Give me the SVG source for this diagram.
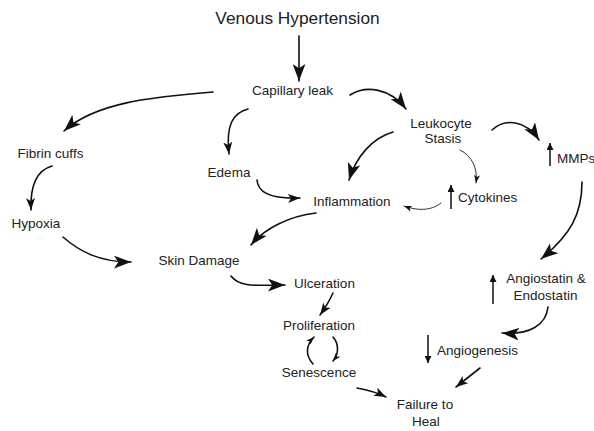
<svg xmlns="http://www.w3.org/2000/svg" width="594" height="431" viewBox="0 0 594 431">
<style>
text{font-family:"Liberation Sans",Arial,sans-serif;font-size:13.5px;fill:#222;text-anchor:middle}
.title{font-size:17.3px}
.c{fill:none;stroke:#111;stroke-width:1.6;stroke-linecap:round}
.t{fill:none;stroke:#333;stroke-width:1;stroke-linecap:round}
.s{fill:none;stroke:#111;stroke-width:1.5}
</style>
<defs>
<marker id="big" viewBox="0 0 16 12" refX="16" refY="6" markerWidth="17" markerHeight="13" orient="auto" markerUnits="userSpaceOnUse"><path d="M0,0 L16,6 L0,12 L4,6 z" fill="#111"/></marker>
<marker id="med" viewBox="0 0 16 12" refX="16" refY="6" markerWidth="12" markerHeight="9" orient="auto" markerUnits="userSpaceOnUse"><path d="M0,0 L16,6 L0,12 L4,6 z" fill="#111"/></marker>
<marker id="sm" viewBox="0 0 16 12" refX="16" refY="6" markerWidth="8" markerHeight="6" orient="auto" markerUnits="userSpaceOnUse"><path d="M0,0 L16,6 L0,12 L4,6 z" fill="#111"/></marker>
<marker id="up" viewBox="0 0 10 10" refX="10" refY="5" markerWidth="7" markerHeight="7" orient="auto" markerUnits="userSpaceOnUse"><path d="M0,0 L10,5 L0,10 z" fill="#111"/></marker>
</defs>
<g id="connectors">
<path class="c" d="M299,36 L299,81" marker-end="url(#big)"/>
<path class="c" d="M213,92 C150,97 95,103 64,131" marker-end="url(#big)"/>
<path class="c" d="M248,109 C232,113 226,126 229,154" marker-end="url(#med)"/>
<path class="c" d="M350,95 C366,85 390,88 406,109" marker-end="url(#big)"/>
<path class="c" d="M52,166 C38,170 30,183 31,210" marker-end="url(#med)"/>
<path class="c" d="M257,180 C258,195 275,199 300,198" marker-end="url(#med)"/>
<path class="c" d="M393,132 C372,138 356,157 349,180" marker-end="url(#big)"/>
<path class="c" d="M492,130 C505,118 526,120 539,140" marker-end="url(#big)"/>
<path class="t" d="M460,150 C472,156 478,168 476,183" marker-end="url(#sm)"/>
<path class="t" d="M441,203 C430,212 415,210 404,206" marker-end="url(#sm)"/>
<path class="c" d="M316,213 C290,216 265,228 251,245" marker-end="url(#big)"/>
<path class="c" d="M63,237 C80,252 100,262 131,262" marker-end="url(#big)"/>
<path class="c" d="M231,276 C240,288 258,285 285,285" marker-end="url(#big)"/>
<path class="c" d="M333,293 C329,302 325,308 320,315" marker-end="url(#med)"/>
<path class="c" d="M333,337 C340,345 338,355 333,361" marker-end="url(#sm)"/>
<path class="c" d="M313,364 C305,355 306,345 314,337" marker-end="url(#sm)"/>
<path class="c" d="M357,388 C368,390 378,393 386,397" marker-end="url(#med)"/>
<path class="c" d="M480,368 L456,387" marker-end="url(#med)"/>
<path class="c" d="M548,307 C546,325 530,335 502,333" marker-end="url(#big)"/>
<path class="c" d="M582,182 C582,215 570,235 541,259" marker-end="url(#big)"/>
</g>
<g id="venous"><text class="title" x="297.5" y="24">Venous Hypertension</text></g>
<g id="capillary"><text x="292.5" y="95">Capillary leak</text></g>
<g id="leukocyte"><text x="441" y="128">Leukocyte</text><text x="443" y="143">Stasis</text></g>
<g id="fibrin"><text x="50.5" y="158">Fibrin cuffs</text></g>
<g id="edema"><text x="229" y="177">Edema</text></g>
<g id="mmps"><path class="s" d="M550,166 L550,143" marker-end="url(#up)"/><text x="557" y="163" style="text-anchor:start">MMPs</text></g>
<g id="inflammation"><text x="352" y="206">Inflammation</text></g>
<g id="cytokines"><path class="s" d="M451,209 L451,185" marker-end="url(#up)"/><text x="458" y="202" style="text-anchor:start">Cytokines</text></g>
<g id="hypoxia"><text x="36" y="228">Hypoxia</text></g>
<g id="skin"><text x="199" y="265">Skin Damage</text></g>
<g id="ulceration"><text x="324.5" y="288">Ulceration</text></g>
<g id="angiostatin"><path class="s" d="M493,304 L493,275" marker-end="url(#up)"/><text x="546" y="283">Angiostatin &amp;</text><text x="545.5" y="300">Endostatin</text></g>
<g id="proliferation"><text x="319" y="330">Proliferation</text></g>
<g id="angiogenesis"><path class="s" d="M428,335 L428,363" marker-end="url(#up)"/><text x="437" y="355" style="text-anchor:start">Angiogenesis</text></g>
<g id="senescence"><text x="319" y="377">Senescence</text></g>
<g id="failure"><text x="425" y="409">Failure to</text><text x="426" y="426">Heal</text></g>
</svg>
